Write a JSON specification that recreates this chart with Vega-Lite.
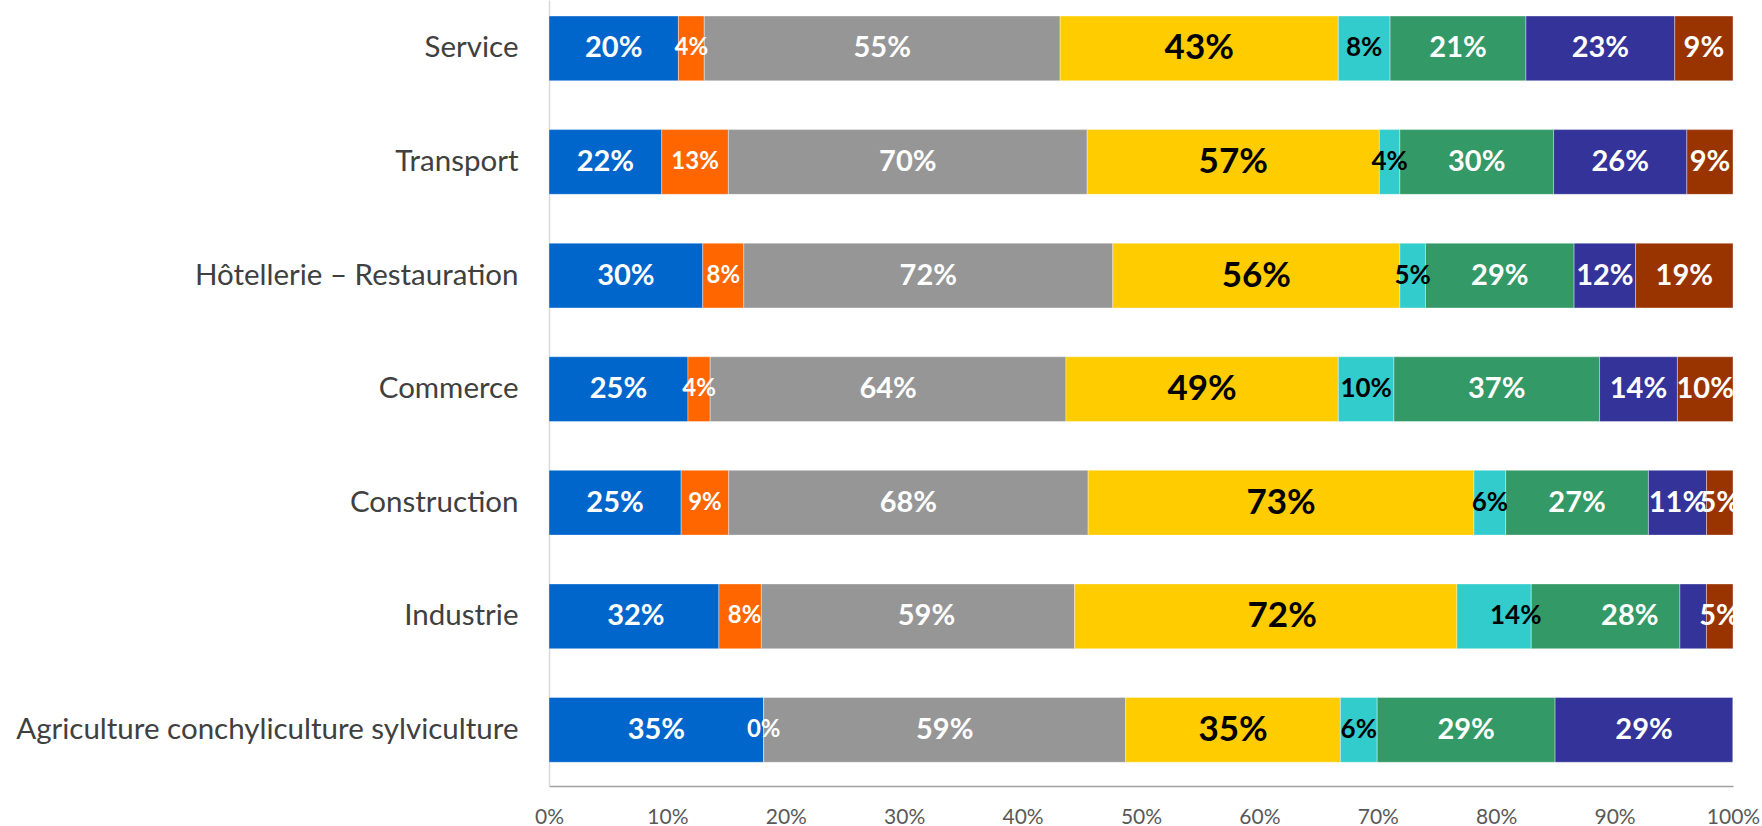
{
  "$schema": "https://vega.github.io/schema/vega-lite/v6.json",
  "autosize": {"type": "none"},
  "width": 1184,
  "height": 786,
  "padding": {"left": 549, "top": 0, "right": 29, "bottom": 40},
  "background": "white",
  "config": {"view": {"stroke": null}, "font": "Lato"},
  "data": {"values": [
    {"cat": "Service", "serie": "S1", "pct": 20, "label": "20%"},
    {"cat": "Service", "serie": "S2", "pct": 4, "label": "4%"},
    {"cat": "Service", "serie": "S3", "pct": 55, "label": "55%"},
    {"cat": "Service", "serie": "S4", "pct": 43, "label": "43%"},
    {"cat": "Service", "serie": "S5", "pct": 8, "label": "8%"},
    {"cat": "Service", "serie": "S6", "pct": 21, "label": "21%"},
    {"cat": "Service", "serie": "S7", "pct": 23, "label": "23%"},
    {"cat": "Service", "serie": "S8", "pct": 9, "label": "9%"},
    {"cat": "Transport", "serie": "S1", "pct": 22, "label": "22%"},
    {"cat": "Transport", "serie": "S2", "pct": 13, "label": "13%"},
    {"cat": "Transport", "serie": "S3", "pct": 70, "label": "70%"},
    {"cat": "Transport", "serie": "S4", "pct": 57, "label": "57%"},
    {"cat": "Transport", "serie": "S5", "pct": 4, "label": "4%"},
    {"cat": "Transport", "serie": "S6", "pct": 30, "label": "30%"},
    {"cat": "Transport", "serie": "S7", "pct": 26, "label": "26%"},
    {"cat": "Transport", "serie": "S8", "pct": 9, "label": "9%"},
    {"cat": "Hôtellerie – Restauration", "serie": "S1", "pct": 30, "label": "30%"},
    {"cat": "Hôtellerie – Restauration", "serie": "S2", "pct": 8, "label": "8%"},
    {"cat": "Hôtellerie – Restauration", "serie": "S3", "pct": 72, "label": "72%"},
    {"cat": "Hôtellerie – Restauration", "serie": "S4", "pct": 56, "label": "56%"},
    {"cat": "Hôtellerie – Restauration", "serie": "S5", "pct": 5, "label": "5%"},
    {"cat": "Hôtellerie – Restauration", "serie": "S6", "pct": 29, "label": "29%"},
    {"cat": "Hôtellerie – Restauration", "serie": "S7", "pct": 12, "label": "12%"},
    {"cat": "Hôtellerie – Restauration", "serie": "S8", "pct": 19, "label": "19%"},
    {"cat": "Commerce", "serie": "S1", "pct": 25, "label": "25%"},
    {"cat": "Commerce", "serie": "S2", "pct": 4, "label": "4%"},
    {"cat": "Commerce", "serie": "S3", "pct": 64, "label": "64%"},
    {"cat": "Commerce", "serie": "S4", "pct": 49, "label": "49%"},
    {"cat": "Commerce", "serie": "S5", "pct": 10, "label": "10%"},
    {"cat": "Commerce", "serie": "S6", "pct": 37, "label": "37%"},
    {"cat": "Commerce", "serie": "S7", "pct": 14, "label": "14%"},
    {"cat": "Commerce", "serie": "S8", "pct": 10, "label": "10%"},
    {"cat": "Construction", "serie": "S1", "pct": 25, "label": "25%"},
    {"cat": "Construction", "serie": "S2", "pct": 9, "label": "9%"},
    {"cat": "Construction", "serie": "S3", "pct": 68, "label": "68%"},
    {"cat": "Construction", "serie": "S4", "pct": 73, "label": "73%"},
    {"cat": "Construction", "serie": "S5", "pct": 6, "label": "6%"},
    {"cat": "Construction", "serie": "S6", "pct": 27, "label": "27%"},
    {"cat": "Construction", "serie": "S7", "pct": 11, "label": "11%"},
    {"cat": "Construction", "serie": "S8", "pct": 5, "label": "5%"},
    {"cat": "Industrie", "serie": "S1", "pct": 32, "label": "32%"},
    {"cat": "Industrie", "serie": "S2", "pct": 8, "label": "8%"},
    {"cat": "Industrie", "serie": "S3", "pct": 59, "label": "59%"},
    {"cat": "Industrie", "serie": "S4", "pct": 72, "label": "72%"},
    {"cat": "Industrie", "serie": "S5", "pct": 14, "label": "14%"},
    {"cat": "Industrie", "serie": "S6", "pct": 28, "label": "28%"},
    {"cat": "Industrie", "serie": "S7", "pct": 5, "label": "5%"},
    {"cat": "Industrie", "serie": "S8", "pct": 5, "label": null},
    {"cat": "Agriculture conchyliculture sylviculture", "serie": "S1", "pct": 35, "label": "35%"},
    {"cat": "Agriculture conchyliculture sylviculture", "serie": "S2", "pct": 0, "label": "0%"},
    {"cat": "Agriculture conchyliculture sylviculture", "serie": "S3", "pct": 59, "label": "59%"},
    {"cat": "Agriculture conchyliculture sylviculture", "serie": "S4", "pct": 35, "label": "35%"},
    {"cat": "Agriculture conchyliculture sylviculture", "serie": "S5", "pct": 6, "label": "6%"},
    {"cat": "Agriculture conchyliculture sylviculture", "serie": "S6", "pct": 29, "label": "29%"},
    {"cat": "Agriculture conchyliculture sylviculture", "serie": "S7", "pct": 29, "label": "29%"},
    {"cat": "Agriculture conchyliculture sylviculture", "serie": "S8", "pct": 0, "label": null}
  ]},
  "encoding": {
    "y": {
      "field": "cat", "type": "nominal",
      "sort": ["Service", "Transport", "Hôtellerie – Restauration", "Commerce", "Construction", "Industrie", "Agriculture conchyliculture sylviculture"],
      "scale": {"paddingInner": 0.43, "paddingOuter": 0.175, "align": 0.403},
      "axis": {
        "title": null, "ticks": false, "tickSize": 0, "labelPadding": 31,
        "labelFont": "Lato", "labelFontSize": 29.5, "labelColor": "#404040",
        "domainColor": "#d9d9d9", "domainWidth": 1.5, "labelLimit": 600
      }
    },
    "x": {
      "field": "pct", "type": "quantitative", "stack": "normalize",
      "scale": {"nice": false},
      "axis": {
        "title": null, "values": [0, 0.1, 0.2, 0.3, 0.4, 0.5, 0.6, 0.7, 0.8, 0.9, 1],
        "format": ".0%", "grid": false, "ticks": false, "tickSize": 0,
        "labelPadding": 20, "labelFlush": false, "labelBound": false,
        "labelFont": "Lato", "labelFontSize": 21, "labelColor": "#595959",
        "domainColor": "#a0a0a0", "domainWidth": 1.5
      }
    },
    "order": {"field": "serie", "type": "nominal"}
  },
  "layer": [
    {
      "mark": {"type": "bar", "stroke": "white", "strokeWidth": 0.6, "strokeOpacity": 0.6},
      "encoding": {
        "color": {
          "field": "serie", "type": "nominal", "legend": null,
          "scale": {
            "domain": ["S1", "S2", "S3", "S4", "S5", "S6", "S7", "S8"],
            "range": ["#0066CC", "#FF6600", "#969696", "#FFCC00", "#33CCCC", "#339966", "#333399", "#993300"]
          }
        }
      }
    },
    {
      "transform": [{"filter": "datum.label != null"}],
      "mark": {"type": "text", "font": "Lato", "fontWeight": "bold", "align": "center", "baseline": "middle"},
      "encoding": {
        "x": {"field": "pct", "type": "quantitative", "stack": "normalize", "bandPosition": 0.5},
        "text": {"field": "label", "type": "nominal"},
        "color": {
          "condition": {"test": "datum.serie === 'S4' || datum.serie === 'S5'", "value": "#000000"},
          "value": "#ffffff"
        },
        "size": {
          "condition": [
            {"test": "datum.serie === 'S4'", "value": 35},
            {"test": "datum.serie === 'S2'", "value": 24},
            {"test": "datum.serie === 'S5'", "value": 26}
          ],
          "value": 29
        }
      }
    }
  ]
}
